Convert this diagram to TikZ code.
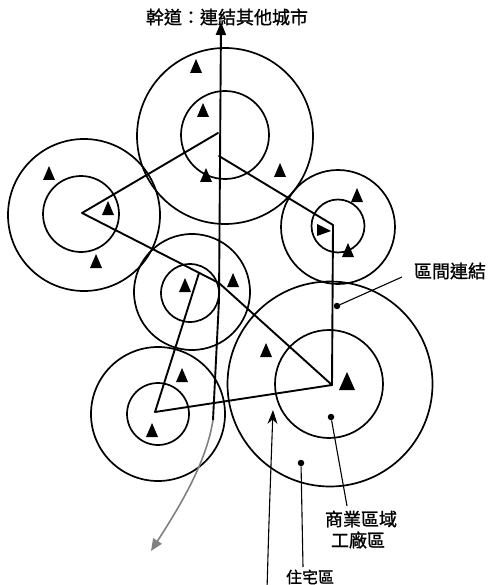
\documentclass[tikz,border=0pt]{standalone}
\usepackage{fontspec}
\newfontfamily\cjk[FakeBold=1.2]{Noto Sans CJK TC}
\usetikzlibrary{arrows.meta}
\tikzset{
  ring/.style={draw, circle, line width=1.7pt, inner sep=0pt},
  route/.style={line width=1.9pt, line join=round, line cap=round},
  lead/.style={line width=1.1pt},
  lbl/.style={font=\cjk\fontsize{18}{18}\selectfont, inner sep=0pt},
  dotmark/.style={circle, fill=black, inner sep=0pt, minimum size=6.5pt},
  tri/.pic={\fill (-6,5) -- (6,5) -- (0,-9) -- cycle;},
  triright/.pic={\fill (-5,-6) -- (-5,6) -- (9,1) -- cycle;},
  bigtri/.pic={\fill (-8,7) -- (8,7) -- (0,-11) -- cycle;}
}
\begin{document}
\begin{tikzpicture}[x=1pt,y=-1pt]
\useasboundingbox (0,0) rectangle (494,585);

% circles (outer and inner rings of each district)
\node[ring, minimum size=176pt] (topO) at (225,136) {};
\node[ring, minimum size=88pt]  (topI) at (225,135) {};
\node[ring, minimum size=152pt] (lefO) at (84,215) {};
\node[ring, minimum size=76pt]  (lefI) at (81,214) {};
\node[ring, minimum size=114pt] (rigO) at (338,227) {};
\node[ring, minimum size=53pt]  (rigI) at (338,226) {};
\node[ring, minimum size=116pt] (midO) at (192,292) {};
\node[ring, minimum size=58pt]  (midI) at (190,293) {};
\node[ring, minimum size=134pt] (llO) at (158,414) {};
\node[ring, minimum size=62pt]  (llI) at (158,414) {};
\node[ring, minimum size=205pt] (bigO) at (330,384) {};
\node[ring, minimum size=108pt] (bigI) at (329,384) {};

% route junctions
\coordinate (L)  at (82,213);
\coordinate (T1) at (218,133);
\coordinate (T2) at (219,156);
\coordinate (R)  at (333,225);
\coordinate (B)  at (332,385);
\coordinate (K)  at (219,283);
\coordinate (LL) at (155,412);
\coordinate (Mt) at (199,273);

\draw[route] (T1) -- (L) -- (K) -- (B) -- (LL) -- (Mt);
\draw[route] (T2) -- (R) -- (B);

% arterial road
\coordinate (Atop) at (221,22);
\coordinate (Amid) at (219,300);
\coordinate (Abend) at (213,420);
\coordinate (Aend) at (151,551);
\draw[route, line cap=butt, {Triangle[length=13pt,width=10pt]}-] (Atop) -- (Amid) -- (Abend);
\draw[line width=1.6pt, gray, -{Triangle[length=12pt,width=10pt]}] (Abend) .. controls (207,458) and (186,497) .. (Aend);

% triangles
\foreach \p in {(196,68),(203,112),(206,177),(280,172),(49,175),(108,210),(96,263),
  (357,197),(348,252),(185,287),(233,282),(182,377),(266,352),(152,432)}
  \pic at \p {tri};
\pic at (322,230) {triright};
\pic at (347,383) {bigtri};

% labels and leaders
\node[lbl] (top) at (227,17) {幹道：連結其他城市};
\node[lbl] (link) at (450,271) {區間連結};
\node[lbl] (comm) at (361,519) {商業區域};
\node[lbl] (fact) at (358,540) {工廠區};
\node[lbl, font=\cjk\fontsize{16}{16}\selectfont] (home) at (310,577) {住宅區};

\node[dotmark] (d1) at (337,306) {};
\node[dotmark] (d2) at (331,417) {};
\node[dotmark] (d3) at (301,463) {};
\coordinate (e1) at (402,277);
\coordinate (e2) at (347,506);
\coordinate (e3) at (303,567);
\draw[lead] (d1) -- (e1);
\draw[lead] (d2) -- (e2);
\draw[lead] (d3) -- (e3);

\coordinate (Zb) at (267,590);
\coordinate (Zt) at (273,410);
\draw[lead, -{Stealth[length=14pt,width=10pt]}] (Zb) .. controls (269,520) .. (Zt);
\end{tikzpicture}
\end{document}
